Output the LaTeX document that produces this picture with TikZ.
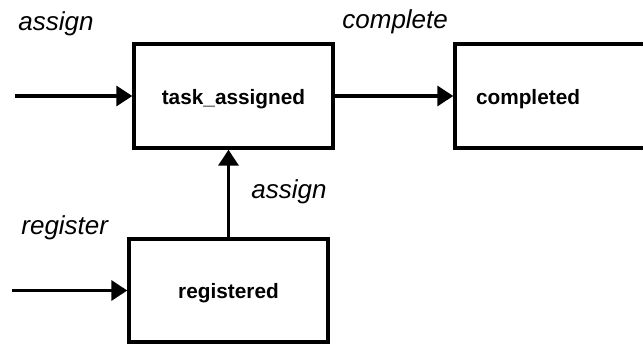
\documentclass[tikz,border=0pt]{standalone}
\usepackage{fontspec}
\setmainfont{Liberation Sans}
\usetikzlibrary{arrows.meta}

\begin{document}
\begin{tikzpicture}[x=0.5pt,y=-0.5pt,
        state/.style={draw,line width=1.7pt,minimum width=99.5pt,minimum height=52pt,
            font=\fontsize{10.4}{12}\selectfont\bfseries,text height=10pt,text depth=2pt},
        event/.style={anchor=base west,inner sep=0pt,font=\fontsize{13}{15}\selectfont\itshape},
        flow/.style={line width=1.7pt,-{Triangle[length=8pt,width=10pt]}}
    ]
    \useasboundingbox (0,0) rectangle (643,343);
    \node[state] (task) at (233.5,96) {task\_assigned};
    \node[state,align=left,text width=78.5pt,inner xsep=10.5pt] (done) at (554.5,96) {completed};
    \node[state,minimum height=51.5pt] (reg) at (228.5,290.5) {registered};
    \coordinate (in1) at (15,96);
    \coordinate (in2) at (12,290.5);
    \draw[flow] (in1) -- (task.west);
    \draw[flow] (task) -- (done);
    \draw[flow] (reg.north) -- (reg.north |- task.south);
    \draw[flow] (in2) -- (reg.west);
    \node[event] (evassign) at (18,30) {assign};
    \node[event] (evcomplete) at (342,28) {complete};
    \node[event] (evassign2) at (251,198) {assign};
    \node[event] (evregister) at (21,234) {register};
\end{tikzpicture}
\end{document}
